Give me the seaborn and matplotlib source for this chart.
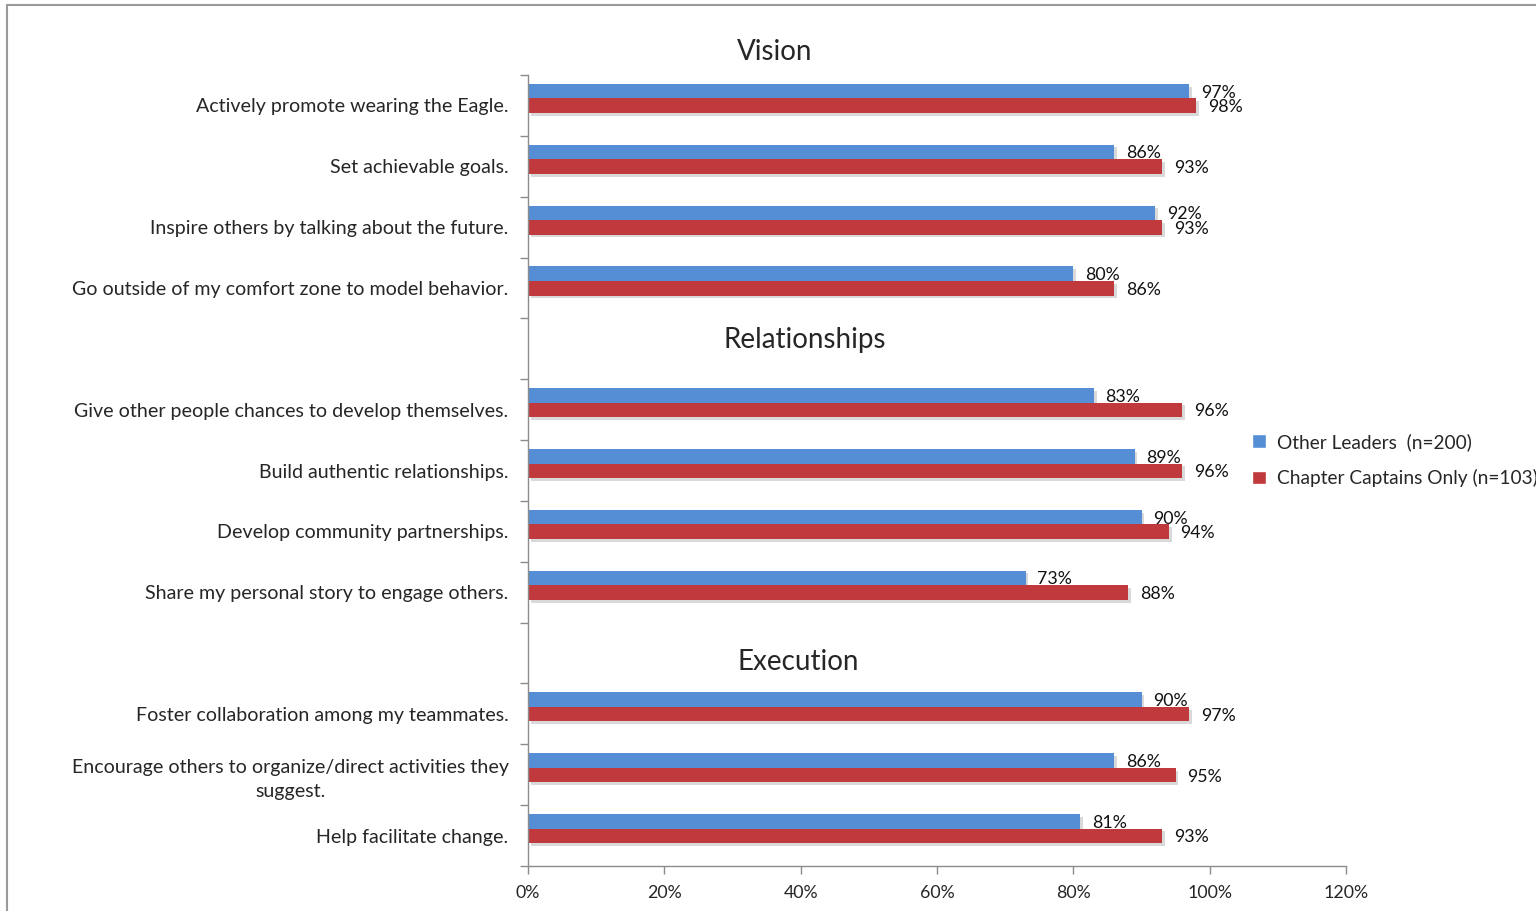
import matplotlib
matplotlib.use("Agg")
import matplotlib.pyplot as plt
from matplotlib.lines import Line2D
from matplotlib.patches import Patch
import matplotlib.patheffects as pe
import seaborn as sns
import pandas as pd
import numpy as np

# ---- data ----
categories = [
    "Actively promote wearing the Eagle.",
    "Set achievable goals.",
    "Inspire others by talking about the future.",
    "Go outside of my comfort zone to model behavior.",
    "_blank1",
    "Give other people chances to develop themselves.",
    "Build authentic relationships.",
    "Develop community partnerships.",
    "Share my personal story to engage others.",
    "_blank2",
    "Foster collaboration among my teammates.",
    "Encourage others to organize/direct activities they\nsuggest.",
    "Help facilitate change.",
]
other_leaders = [97, 86, 92, 80, None, 83, 89, 90, 73, None, 90, 86, 81]
chapter_captains = [98, 93, 93, 86, None, 96, 96, 94, 88, None, 97, 95, 93]
series_names = ["Other Leaders  (n=200)", "Chapter Captains Only (n=103)"]
sections = ["Vision", "Relationships", "Execution"]
xticks = [0, 20, 40, 60, 80, 100, 120]
xtick_labels = ["0%", "20%", "40%", "60%", "80%", "100%", "120%"]

rows = []
for c, a, b in zip(categories, other_leaders, chapter_captains):
    if a is not None:
        rows.append({"item": c, "group": series_names[0], "value": a})
        rows.append({"item": c, "group": series_names[1], "value": b})
df = pd.DataFrame(rows)

sns.set_theme(style="white")
plt.rcParams["font.family"] = ["Lato", "DejaVu Sans"]

W, H = 1536, 911
fig = plt.figure(figsize=(W / 100, H / 100), dpi=100)
ax = fig.add_axes([528 / W, 1 - 866 / H, (1346 - 528) / W, (866 - 75) / H])

colors = ["#558ED5", "#C0393C"]
sns.barplot(data=df, y="item", x="value", hue="group", order=categories,
            hue_order=series_names, palette=colors, orient="h",
            width=0.48, gap=0, ax=ax, legend=False, saturation=1)

shadow = [pe.SimplePatchShadow(offset=(2, -2), alpha=0.22, shadow_rgbFace="#555555"), pe.Normal()]
for cont in ax.containers:
    for p in cont:
        p.set_path_effects(shadow)
        p.set_linewidth(0)

for cont in ax.containers:
    txts = ax.bar_label(cont, labels=[f"{v:.0f}%" for v in cont.datavalues],
                        padding=8.5, fontsize=12.8, color="#111111", zorder=0.5)
    for t in txts:
        t.set_va("center_baseline")

n = len(categories)
off = 0.115  # bars sit slightly above the slot centre, as in the reference
ax.set_xlim(0, 120)
ax.set_ylim(n - 0.5 + off, -0.5 + off)
ax.set_xticks(xticks)
ax.set_xticklabels(xtick_labels, fontsize=12.8)
ax.set_xlabel("")
ax.set_ylabel("")

# y tick labels at slot centres, tick marks at slot boundaries
ylabels = ["" if c.startswith("_blank") else c for c in categories]
ax.set_yticks(np.arange(n) + off)
ax.set_yticklabels(ylabels, fontsize=14.1, multialignment="center", linespacing=1.45)
ax.set_yticks(np.arange(-0.5, n, 1) + off, minor=True)
ax.tick_params(axis="y", which="major", length=0, pad=14)
ax.tick_params(axis="y", which="minor", length=6, width=1, color="#8C8C8C", direction="out", left=True)
ax.tick_params(axis="x", which="major", length=6, width=1, color="#8C8C8C", direction="out", bottom=True, pad=8)

for s in ["top", "right"]:
    ax.spines[s].set_visible(False)
for s in ["left", "bottom"]:
    ax.spines[s].set_color("#8C8C8C")
    ax.spines[s].set_linewidth(1)

# section headers
ax.text(36.2, -0.87 + off, sections[0], fontsize=20, ha="center", va="center", clip_on=False)
ax.text(40.6, 3.86 + off, sections[1], fontsize=20, ha="center", va="center")
ax.text(39.6, 9.14 + off, sections[2], fontsize=20, ha="center", va="center")

# legend
handles = [Patch(facecolor=colors[0], label=series_names[0]),
           Patch(facecolor=colors[1], label=series_names[1])]
fig.legend(handles=handles, loc="center left", bbox_to_anchor=(1235 / W, 1 - 460 / H),
           frameon=False, fontsize=13.8, handlelength=0.7, handleheight=0.7,
           handletextpad=0.6, labelspacing=0.95)

# outer chart border (top and left visible)
fig.add_artist(Line2D([7 / W, 1.0], [1 - 5 / H, 1 - 5 / H], color="#9A9A9A", lw=1.5))
fig.add_artist(Line2D([7 / W, 7 / W], [0, 1 - 5 / H], color="#9A9A9A", lw=1.5))

fig.savefig("out.png", dpi=100)
